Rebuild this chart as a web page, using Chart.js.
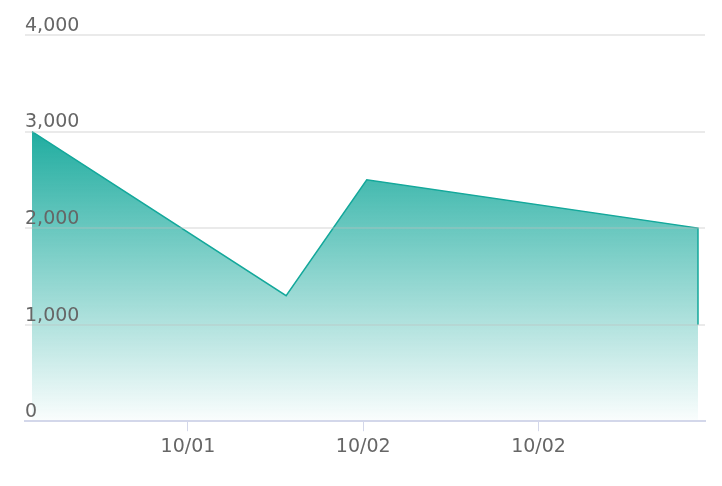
<!DOCTYPE html>
<html lang="en">
<head>
    <meta charset="UTF-8">
    <title>Area chart</title>
    <script src="https://cdn.jsdelivr.net/npm/chart.js"></script>
    <style>
        html, body { margin: 0; padding: 0; background: #fff; }
        #wrap { width: 722px; height: 486px; }
    </style>
</head>
<body>
<div id="wrap"><canvas id="areaChart"></canvas></div>
<script>
    // data (x in tick units: 1 = first tick)
    const xValues = [0.11, 1.56, 2.02, 3.91, 3.91];
    const yValues = [3000, 1300, 2500, 2000, 1000];
    const xTicks = [1, 2, 3];
    const xTickLabels = ['10/01', '10/02', '10/02'];
    const yTicks = [0, 1000, 2000, 3000, 4000];

    const lineColor = '#14a89b';

    const ctx = document.getElementById('areaChart').getContext('2d');
    new Chart(ctx, {
        type: 'line',
        data: {
            datasets: [{
                data: xValues.map((x, i) => ({ x: x, y: yValues[i] })),
                borderColor: lineColor,
                borderWidth: 1.5,
                pointRadius: 0,
                tension: 0,
                fill: 'origin',
                backgroundColor: function (c) {
                    const chart = c.chart;
                    const area = chart.chartArea;
                    if (!area) return 'rgba(20,168,155,0.5)';
                    const top = chart.scales.y.getPixelForValue(Math.max(...yValues));
                    const g = chart.ctx.createLinearGradient(0, top, 0, area.bottom);
                    g.addColorStop(0, 'rgba(20,168,155,0.95)');
                    g.addColorStop(1, 'rgba(20,168,155,0.02)');
                    return g;
                }
            }]
        },
        options: {
            responsive: true,
            maintainAspectRatio: false,
            animation: false,
            layout: { padding: { left: 25, right: 17, top: 35, bottom: 24 } },
            plugins: { legend: { display: false }, tooltip: { enabled: false } },
            scales: {
                x: {
                    type: 'linear',
                    min: 0.07,
                    max: 3.95,
                    afterBuildTicks: axis => { axis.ticks = xTicks.map(v => ({ value: v })); },
                    ticks: {
                        callback: (v, i) => xTickLabels[i],
                        font: { family: 'DejaVu Sans', size: 19 },
                        color: '#666',
                        padding: 4,
                        maxRotation: 0
                    },
                    grid: { drawOnChartArea: false, drawTicks: true, tickLength: 10, color: '#d3d7ea' },
                    border: { display: true, color: '#d3d7ea', width: 2, z: 1 }
                },
                y: {
                    min: 0,
                    max: 4000,
                    afterBuildTicks: axis => { axis.ticks = yTicks.map(v => ({ value: v })); },
                    ticks: {
                        z: 1,
                        mirror: true,
                        padding: 0,
                        labelOffset: -9,
                        font: { family: 'DejaVu Sans', size: 19 },
                        color: '#666',
                        callback: v => v.toLocaleString('en-US')
                    },
                    grid: {
                        z: 1,
                        drawTicks: false,
                        lineWidth: 2,
                        color: c => c.tick && c.tick.value === 0 ? 'rgba(0,0,0,0)' : 'rgba(190,190,190,0.32)'
                    },
                    border: { display: false }
                }
            }
        }
    });
</script>
</body>
</html>
